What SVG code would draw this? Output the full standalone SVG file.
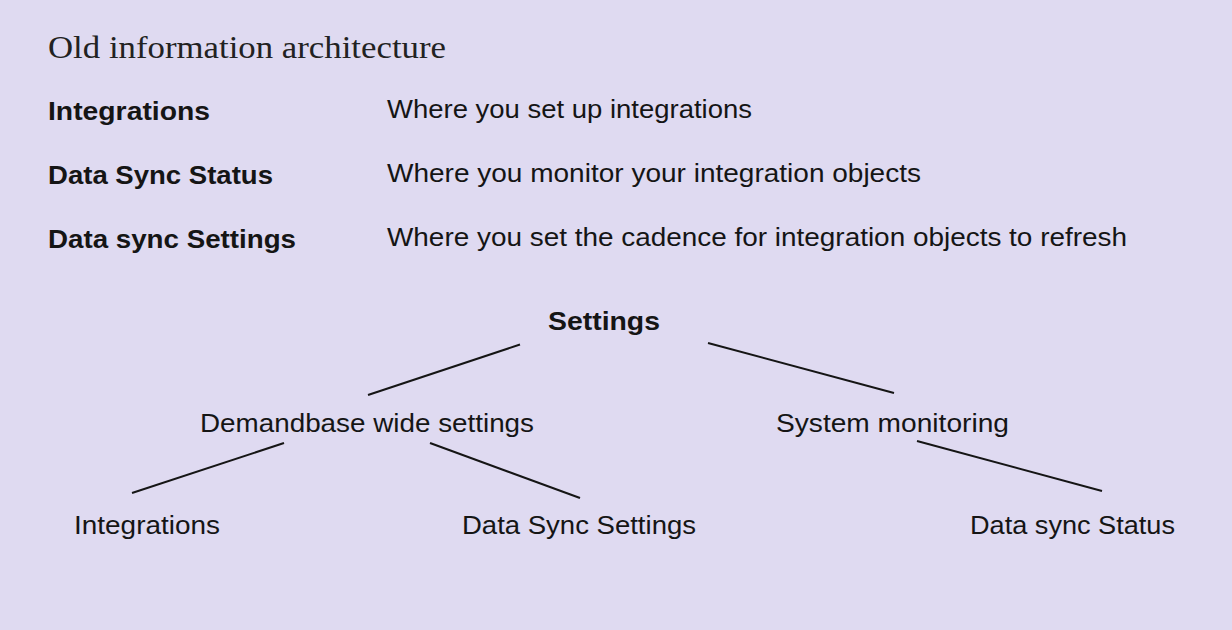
<svg xmlns="http://www.w3.org/2000/svg" width="1232" height="630" viewBox="0 0 1232 630">
<style>
.t{font-family:"Liberation Sans","Noto Sans",Arial,sans-serif;font-size:26px;fill:#151515}
.b{font-weight:bold}
.title{font-family:"Liberation Serif","DejaVu Serif",serif;font-size:32px;fill:#222}
.c{stroke:#151515;stroke-width:2;fill:none}
</style>
<rect width="1232" height="630" fill="#dfdaf1"/>
<g id="title"><text class="title" x="48" y="58" textLength="398" lengthAdjust="spacingAndGlyphs">Old information architecture</text></g>
<g id="legend">
<text class="t b" x="48" y="120" textLength="162" lengthAdjust="spacingAndGlyphs">Integrations</text>
<text class="t" x="387" y="118" textLength="365" lengthAdjust="spacingAndGlyphs">Where you set up integrations</text>
<text class="t b" x="48" y="184" textLength="225" lengthAdjust="spacingAndGlyphs">Data Sync Status</text>
<text class="t" x="387" y="182" textLength="534" lengthAdjust="spacingAndGlyphs">Where you monitor your integration objects</text>
<text class="t b" x="48" y="248" textLength="248" lengthAdjust="spacingAndGlyphs">Data sync Settings</text>
<text class="t" x="387" y="246" textLength="740" lengthAdjust="spacingAndGlyphs">Where you set the cadence for integration objects to refresh</text>
</g>
<g id="connectors">
<line class="c" x1="520" y1="344.5" x2="368" y2="395"/>
<line class="c" x1="708" y1="343" x2="894" y2="393"/>
<line class="c" x1="284" y1="443" x2="132" y2="493"/>
<line class="c" x1="430" y1="443" x2="580" y2="498"/>
<line class="c" x1="917" y1="441" x2="1102" y2="491"/>
</g>
<g id="settings"><text class="t b" x="548" y="330" textLength="112" lengthAdjust="spacingAndGlyphs">Settings</text></g>
<g id="demandbase"><text class="t" x="200" y="432" textLength="334" lengthAdjust="spacingAndGlyphs">Demandbase wide settings</text></g>
<g id="system"><text class="t" x="776" y="432" textLength="233" lengthAdjust="spacingAndGlyphs">System monitoring</text></g>
<g id="integrations"><text class="t" x="74" y="534" textLength="146" lengthAdjust="spacingAndGlyphs">Integrations</text></g>
<g id="datasyncsettings"><text class="t" x="462" y="534" textLength="234" lengthAdjust="spacingAndGlyphs">Data Sync Settings</text></g>
<g id="datasyncstatus"><text class="t" x="970" y="534" textLength="205" lengthAdjust="spacingAndGlyphs">Data sync Status</text></g>
</svg>
